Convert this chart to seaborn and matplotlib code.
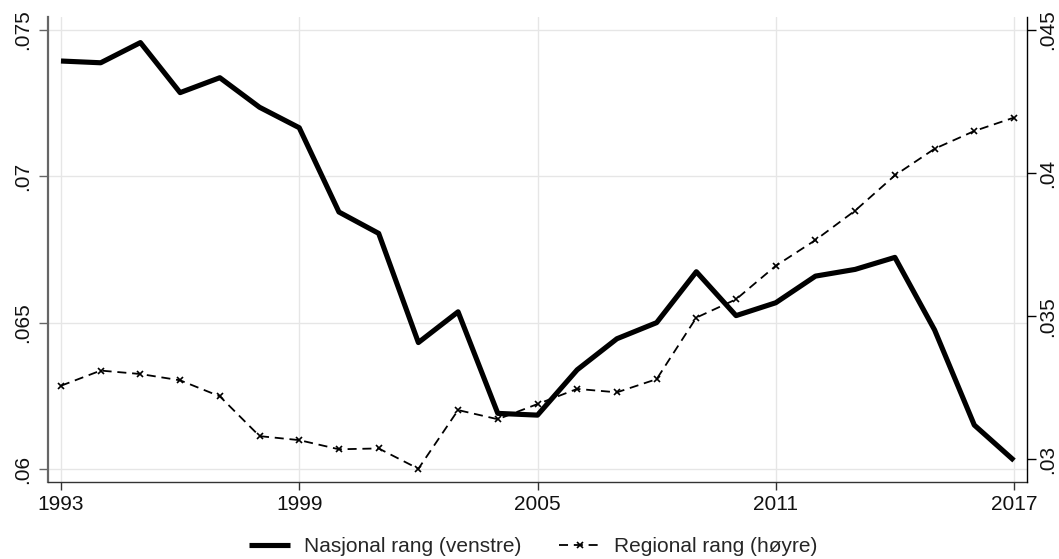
import matplotlib
matplotlib.use("Agg")
import matplotlib.pyplot as plt
import pandas as pd
import seaborn as sns

# Yearly series
years = list(range(1993, 2018))
nasjonal = [0.07394, 0.07388, 0.07457, 0.07286, 0.07337, 0.07236, 0.07166,
            0.06878, 0.06805, 0.06432, 0.06537, 0.06190, 0.06184, 0.06339,
            0.06445, 0.06500, 0.06674, 0.06524, 0.06568, 0.06659, 0.06682,
            0.06723, 0.06475, 0.06150, 0.06029]
regional = [0.03257, 0.03310, 0.03298, 0.03276, 0.03220, 0.03081, 0.03067,
            0.03035, 0.03038, 0.02967, 0.03172, 0.03140, 0.03193, 0.03246,
            0.03234, 0.03280, 0.03495, 0.03559, 0.03676, 0.03766, 0.03869,
            0.03992, 0.04085, 0.04147, 0.04194]

x_ticks = [1993, 1999, 2005, 2011, 2017]
left_ticks = [0.06, 0.065, 0.07, 0.075]
left_labels = [".06", ".065", ".07", ".075"]
right_ticks = [0.03, 0.035, 0.04, 0.045]
right_labels = [".03", ".035", ".04", ".045"]
series_names = ["Nasjonal rang (venstre)", "Regional rang (høyre)"]

sns.set_theme(style="white")
plt.rcParams["font.family"] = ["Liberation Sans", "DejaVu Sans"]

W, H = 1059, 559
fig = plt.figure(figsize=(W / 100, H / 100), dpi=100)
ax = fig.add_axes([48 / W, 1 - 482 / H, (1027 - 48) / W, (482 - 17) / H])
ax2 = ax.twinx()

df = pd.DataFrame({"år": years, "nasjonal": nasjonal, "regional": regional})

sns.lineplot(data=df, x="år", y="nasjonal", ax=ax, color="black",
             linewidth=3.7, legend=False, solid_capstyle="butt",
             label=series_names[0])
sns.lineplot(data=df, x="år", y="regional", ax=ax2, color="black",
             linewidth=1.3, legend=False, label=series_names[1])

solid_line = ax.get_lines()[0]
dash_line = ax2.get_lines()[0]
dash_line.set_linestyle((0, (5.0, 3.2)))
dash_line.set_marker("x")
dash_line.set_markersize(4.5)
dash_line.set_markeredgewidth(1.2)
dash_line.set_markeredgecolor("black")
dash_line.set_markerfacecolor("black")

ax.set_xlim(1992.673, 2017.327)
ax.set_ylim(0.059555, 0.075444)
ax2.set_ylim(0.029207, 0.045454)

ax.set_xticks(x_ticks)
ax.set_xticklabels([str(t) for t in x_ticks])
ax.set_yticks(left_ticks)
ax.set_yticklabels(left_labels, rotation=90, va="center")
ax2.set_yticks(right_ticks)
ax2.set_yticklabels(right_labels, rotation=90, va="center")

for a in (ax, ax2):
    a.set_xlabel("")
    a.set_ylabel("")
    if a.get_legend() is not None:
        a.get_legend().remove()

ax.grid(True, color="#e6e6e6", linewidth=1.0)
ax2.grid(False)
ax.set_axisbelow(True)

for s in ("top", "right"):
    ax.spines[s].set_visible(False)
for s in ("top", "left", "bottom"):
    ax2.spines[s].set_visible(False)
ax.spines["left"].set_color("#666666")
ax.spines["left"].set_linewidth(1.6)
ax.spines["bottom"].set_color("#333333")
ax.spines["bottom"].set_linewidth(1.0)
ax2.spines["right"].set_color("black")
ax2.spines["right"].set_linewidth(1.0)

ax.tick_params(axis="x", bottom=True, length=6, width=1, color="#333333",
               pad=3, labelsize=15, labelcolor="#111111")
ax.tick_params(axis="y", left=True, length=6.5, width=1, color="#666666",
               pad=5, labelsize=15, labelcolor="#111111")
ax2.tick_params(axis="y", right=True, length=6.5, width=1, color="black",
                pad=1.5, labelsize=15, labelcolor="#111111")

fig.legend([solid_line, dash_line], series_names, loc="center", ncol=2,
           bbox_to_anchor=(533 / W, 1 - 547 / H), frameon=False,
           fontsize=15, handlelength=2.0, handletextpad=0.65,
           columnspacing=1.8, borderaxespad=0)

fig.savefig("out.png", dpi=100)
